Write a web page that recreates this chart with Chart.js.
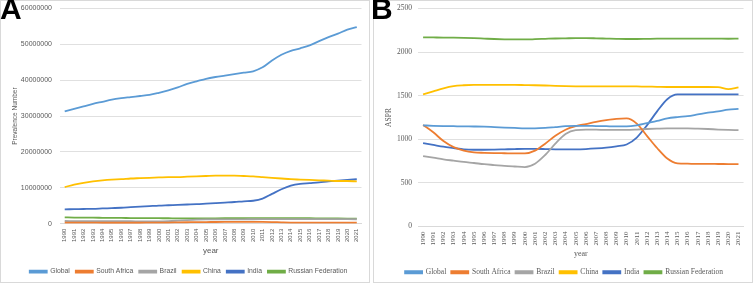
<!DOCTYPE html>
<html>
<head>
<meta charset="utf-8">
<script src="https://cdn.jsdelivr.net/npm/chart.js@4.4.1/dist/chart.umd.min.js"></script>
<style>
  body { margin: 0; background: #fff; width: 753px; height: 283px; overflow: hidden; position: relative; }
  .panel { position: absolute; top: 0; height: 281px; border: 1px solid #d9d9d9; background: #fff; }
  #panelA { left: 0; width: 368px; }
  #panelB { left: 373px; width: 378px; }
  .panel canvas { position: absolute; left: 0; top: 0; }
  .tag { position: absolute; top: -8px; font: bold 30px 'Liberation Sans', Arial, sans-serif; color: #000; z-index: 2; }
</style>
</head>
<body>
<div class="panel" id="panelA"><canvas id="chartA" width="368" height="281"></canvas></div>
<div class="panel" id="panelB"><canvas id="chartB" width="378" height="281"></canvas></div>
<div class="tag" style="left:0px">A</div>
<div class="tag" style="left:371px">B</div>
<script>
const years = ['1990','1991','1992','1993','1994','1995','1996','1997','1998','1999','2000','2001','2002','2003','2004','2005','2006','2007','2008','2009','2010','2011','2012','2013','2014','2015','2016','2017','2018','2019','2020','2021'];
const seriesNames = ['Global', 'South Africa', 'Brazil', 'China', 'India', 'Russian Federation'];
const seriesColors = ['#5b9bd5', '#ed7d31', '#a5a5a5', '#ffc000', '#4472c4', '#70ad47'];

// A: prevalence number
const globalA = [31300000, 32000000, 32700000, 33400000, 34000000, 34600000, 35000000, 35300000, 35600000, 35900000, 36500000, 37200000, 38000000, 39000000, 39700000, 40400000, 40900000, 41300000, 41700000, 42100000, 42500000, 43600000, 45500000, 47100000, 48200000, 48900000, 49700000, 50900000, 52000000, 53000000, 54100000, 54800000];
const southAfricaA = [300000, 300000, 290000, 280000, 270000, 270000, 270000, 270000, 270000, 280000, 290000, 320000, 360000, 400000, 440000, 460000, 480000, 500000, 520000, 530000, 530000, 500000, 450000, 380000, 320000, 300000, 300000, 300000, 300000, 300000, 300000, 300000];
const brazilA = [750000, 740000, 730000, 720000, 710000, 700000, 690000, 680000, 670000, 660000, 660000, 720000, 850000, 1000000, 1120000, 1180000, 1200000, 1210000, 1220000, 1230000, 1240000, 1250000, 1260000, 1270000, 1280000, 1280000, 1280000, 1280000, 1270000, 1260000, 1250000, 1240000];
const chinaA = [10200000, 10900000, 11400000, 11800000, 12100000, 12300000, 12400000, 12600000, 12700000, 12800000, 12900000, 13000000, 13000000, 13100000, 13200000, 13300000, 13400000, 13400000, 13400000, 13300000, 13200000, 13000000, 12800000, 12600000, 12400000, 12300000, 12200000, 12100000, 12000000, 11900000, 11900000, 11800000];
const indiaA = [4000000, 4050000, 4100000, 4150000, 4250000, 4350000, 4450000, 4600000, 4750000, 4900000, 5050000, 5150000, 5250000, 5350000, 5450000, 5600000, 5750000, 5900000, 6050000, 6250000, 6400000, 7000000, 8300000, 9600000, 10600000, 11100000, 11300000, 11500000, 11800000, 12000000, 12200000, 12400000];
const russiaA = [1750000, 1720000, 1700000, 1680000, 1650000, 1620000, 1600000, 1580000, 1560000, 1550000, 1530000, 1520000, 1500000, 1500000, 1500000, 1500000, 1510000, 1520000, 1530000, 1540000, 1550000, 1550000, 1550000, 1550000, 1540000, 1530000, 1520000, 1500000, 1480000, 1460000, 1440000, 1420000];

// B: ASPR
const globalB = [1160, 1155, 1152, 1150, 1148, 1147, 1145, 1140, 1135, 1130, 1125, 1125, 1130, 1140, 1150, 1155, 1155, 1152, 1150, 1148, 1148, 1160, 1185, 1210, 1240, 1255, 1265, 1285, 1305, 1320, 1340, 1350];
const southAfricaB = [1165, 1080, 980, 910, 870, 850, 845, 842, 840, 838, 838, 870, 950, 1040, 1110, 1150, 1175, 1200, 1220, 1235, 1240, 1180, 1040, 900, 780, 725, 720, 718, 718, 717, 716, 715];
const brazilB = [808, 790, 770, 755, 740, 728, 715, 705, 695, 688, 682, 720, 820, 950, 1060, 1105, 1110, 1110, 1108, 1108, 1108, 1112, 1118, 1122, 1125, 1125, 1125, 1122, 1118, 1112, 1108, 1105];
const chinaB = [1515, 1550, 1585, 1610, 1620, 1625, 1625, 1625, 1625, 1624, 1622, 1620, 1617, 1613, 1610, 1608, 1607, 1607, 1608, 1608, 1608, 1606, 1604, 1602, 1600, 1600, 1600, 1600, 1600, 1598, 1575, 1595];
const indiaB = [955, 935, 915, 900, 885, 880, 880, 882, 885, 888, 890, 890, 888, 885, 885, 885, 888, 895, 905, 920, 940, 1020, 1160, 1320, 1460, 1515, 1515, 1515, 1515, 1515, 1515, 1515];
const russiaB = [2170, 2168, 2166, 2165, 2163, 2160, 2155, 2150, 2147, 2145, 2145, 2148, 2152, 2156, 2158, 2160, 2160, 2158, 2155, 2152, 2150, 2150, 2152, 2154, 2155, 2155, 2155, 2155, 2155, 2154, 2153, 2155];

function buildSets(list) {
    return list.map((d, i) => ({
        label: seriesNames[i],
        data: d,
        borderColor: seriesColors[i],
        backgroundColor: seriesColors[i],
        borderWidth: 1.8,
        pointRadius: 0,
        cubicInterpolationMode: 'monotone',
        fill: false
    }));
}

function makeChart(id, sets, opts) {
    const txt = '#595959';
    const fam = opts.family;
    return new Chart(document.getElementById(id), {
        type: 'line',
        data: { labels: years, datasets: buildSets(sets) },
        options: {
            responsive: false,
            animation: false,
            layout: { padding: opts.padding },
            plugins: {
                tooltip: { enabled: false },
                legend: {
                    position: 'bottom',
                    labels: {
                        color: txt,
                        font: { family: fam, size: opts.legendSize },
                        boxWidth: 17,
                        boxHeight: 2,
                        padding: opts.legendPad
                    }
                }
            },
            scales: {
                x: {
                    offset: true,
                    grid: { display: false, drawTicks: false },
                    border: { color: '#d9d9d9' },
                    ticks: {
                        color: txt,
                        font: { family: fam, size: opts.xTickSize },
                        minRotation: 90,
                        maxRotation: 90,
                        autoSkip: false,
                        padding: 5
                    },
                    title: { display: true, text: 'year', color: txt, font: { family: fam, size: 8 }, padding: { top: 2, bottom: opts.yearPad } },
                    afterFit: s => { s.height = opts.xHeight; }
                },
                y: {
                    min: 0,
                    max: opts.yMax,
                    grid: { color: '#e0e0e0', drawTicks: false },
                    border: { display: false },
                    ticks: {
                        stepSize: opts.yStep,
                        color: txt,
                        font: { family: fam, size: opts.yTickSize },
                        padding: opts.yTickPad,
                        callback: v => v
                    },
                    title: { display: true, text: opts.yTitle, color: txt, font: { family: fam, size: opts.yTitleSize }, padding: { top: 2, bottom: 2 } },
                    afterFit: s => { s.width = opts.yWidth; s.paddingTop = opts.plotTop; }
                }
            }
        }
    });
}

makeChart('chartA', [globalA, southAfricaA, brazilA, chinaA, indiaA, russiaA], {
    family: "'Liberation Sans', Arial, sans-serif",
    padding: { left: 8, right: 1, top: 0, bottom: -3 },
    plotTop: 7.5,
    yMax: 60000000, yStep: 10000000, yTitle: 'Prevalence Number', yTitleSize: 6.5,
    yWidth: 51, yTickPad: 8, yTickSize: 7, xTickSize: 6, legendSize: 6.8, legendPad: 6, xHeight: 38.5, yearPad: 6.5
});

makeChart('chartB', [globalB, southAfricaB, brazilB, chinaB, indiaB, russiaB], {
    family: "'Liberation Serif', 'Times New Roman', serif",
    padding: { left: 9, right: 7, top: 0, bottom: -4 },
    plotTop: 7.5,
    yMax: 2500, yStep: 500, yTitle: 'ASPR', yTitleSize: 7.5,
    yWidth: 35, yTickPad: 6, yTickSize: 7.5, xTickSize: 7, legendSize: 7.5, legendPad: 5, xHeight: 37, yearPad: 5
});
</script>
</body>
</html>
